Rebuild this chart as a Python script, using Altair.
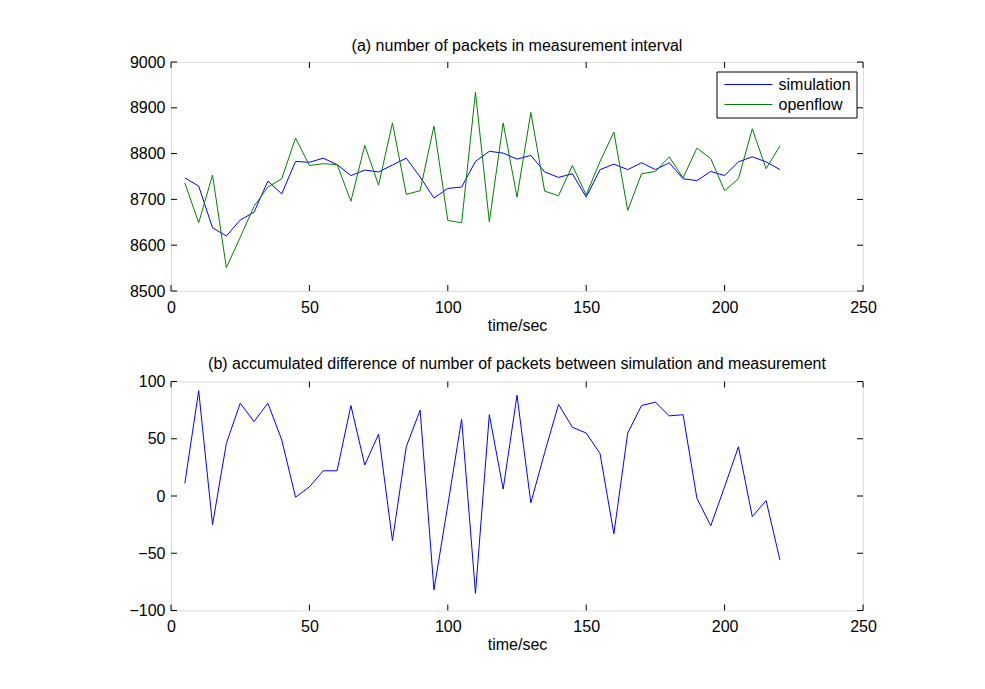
import altair as alt
import pandas as pd

time = [5, 10, 15, 20, 25, 30, 35, 40, 45, 50, 55, 60, 65, 70, 75, 80, 85, 90, 95, 100,
        105, 110, 115, 120, 125, 130, 135, 140, 145, 150, 155, 160, 165, 170, 175, 180,
        185, 190, 195, 200, 205, 210, 215, 220]
simulation = [8747, 8729, 8638, 8620, 8655, 8672, 8740, 8712, 8783, 8781, 8790, 8776, 8752,
              8764, 8760, 8775, 8790, 8749, 8703, 8724, 8727, 8783, 8805, 8801, 8788, 8796,
              8760, 8748, 8756, 8705, 8765, 8777, 8765, 8780, 8765, 8780, 8745, 8741, 8761,
              8752, 8782, 8793, 8782, 8765]
openflow = [8736, 8649, 8753, 8551, 8617, 8685, 8727, 8745, 8834, 8774, 8778, 8776, 8696,
            8818, 8731, 8867, 8711, 8719, 8860, 8654, 8649, 8934, 8651, 8867, 8705, 8890,
            8718, 8708, 8774, 8710, 8783, 8847, 8676, 8756, 8761, 8793, 8747, 8812, 8789,
            8719, 8745, 8854, 8767, 8817]
difference = [11, 92, -25, 46, 81, 65, 81, 49, -1, 8, 22, 22, 79, 27, 54, -39, 43, 75, -82,
              -8, 67, -85, 71, 6, 88, -6, 38, 80, 60, 55, 37, -33, 55, 79, 82, 70, 71, -2,
              -26, 8, 43, -18, -4, -56]
series_names = ["simulation", "openflow"]
series_colors = ["#0000ff", "#008000"]
x_ticks = [0, 50, 100, 150, 200, 250]
y_ticks_a = [8500, 8600, 8700, 8800, 8900, 9000]
y_ticks_b = [-100, -50, 0, 50, 100]
title_a = "(a) number of packets in measurement interval"
title_b = "(b) accumulated difference of number of packets between simulation and measurement"
x_title = "time/sec"

W, H = 692, 229
TICK = 6
FONT = "Liberation Sans"
FS = 16

df_a = pd.DataFrame({
    "time": time * 2,
    "value": simulation + openflow,
    "series": [series_names[0]] * len(time) + [series_names[1]] * len(time),
})
df_b = pd.DataFrame({"time": time, "value": difference})

xscale = alt.Scale(domain=[0, 250], nice=False, zero=False)
xaxis = alt.Axis(values=x_ticks, title=x_title, ticks=False, domain=False, grid=False,
                 labelPadding=8, titlePadding=2, labelFontSize=FS, titleFontSize=FS,
                 titleFontWeight="normal", labelFont=FONT, titleFont=FONT,
                 labelColor="black", titleColor="black", format="d", labelFlush=False)


def yaxis(vals):
    return alt.Axis(values=vals, title=None, ticks=False, domain=False, grid=False,
                    labelPadding=6, labelFontSize=FS, labelFont=FONT, labelColor="black",
                    format="d", labelFlush=False)


def panel(df, yscale, yvals, title, title_offset, color_enc):
    ax = alt.X("time:Q", scale=xscale, axis=xaxis)
    ay = alt.Y("value:Q", scale=yscale, axis=yaxis(yvals))
    lines = alt.Chart(df).mark_line(strokeWidth=1).encode(x=ax, y=ay, color=color_enc)
    xt = pd.DataFrame({"time": x_ticks})
    yt = pd.DataFrame({"value": yvals})
    tb = alt.Chart(xt).mark_rule(color="black", strokeWidth=1).encode(
        x=ax, y=alt.value(H), y2=alt.value(H - TICK))
    tt = alt.Chart(xt).mark_rule(color="black", strokeWidth=1).encode(
        x=ax, y=alt.value(0), y2=alt.value(TICK))
    tl = alt.Chart(yt).mark_rule(color="black", strokeWidth=1).encode(
        y=ay, x=alt.value(0), x2=alt.value(TICK))
    tr = alt.Chart(yt).mark_rule(color="black", strokeWidth=1).encode(
        y=ay, x=alt.value(W - TICK), x2=alt.value(W))
    return alt.layer(tb, tt, tl, tr, lines).properties(
        width=W, height=H,
        title=alt.TitleParams(title, fontSize=FS, fontWeight="normal", font=FONT,
                              color="black", offset=title_offset),
    )


color_a = alt.Color(
    "series:N",
    scale=alt.Scale(domain=series_names, range=series_colors),
    legend=alt.Legend(
        orient="none", legendX=545.5, legendY=9.5, title=None,
        symbolType="M-4.8,0H4.8", symbolSize=100, symbolStrokeWidth=1,
        labelFontSize=FS, labelFont=FONT, labelColor="black",
        strokeColor="black", fillColor="white", padding=5, rowPadding=4,
        symbolOffset=19, labelOffset=22,
    ),
)

top = panel(df_a, alt.Scale(domain=[8500, 9000], nice=False, zero=False), y_ticks_a,
            title_a, 0, color_a)
bottom = panel(df_b, alt.Scale(domain=[-100, 100], nice=False, zero=False), y_ticks_b,
               title_b, 2, alt.value(series_colors[0]))

chart = alt.vconcat(top, bottom, spacing=20.5).resolve_scale(color="independent").properties(
    padding={"left": 120, "top": 29, "right": 5, "bottom": 5}
).configure_view(stroke="black", strokeWidth=1).configure(background="white")

chart.save("out.html", embed_options={"renderer": "svg", "actions": False})
